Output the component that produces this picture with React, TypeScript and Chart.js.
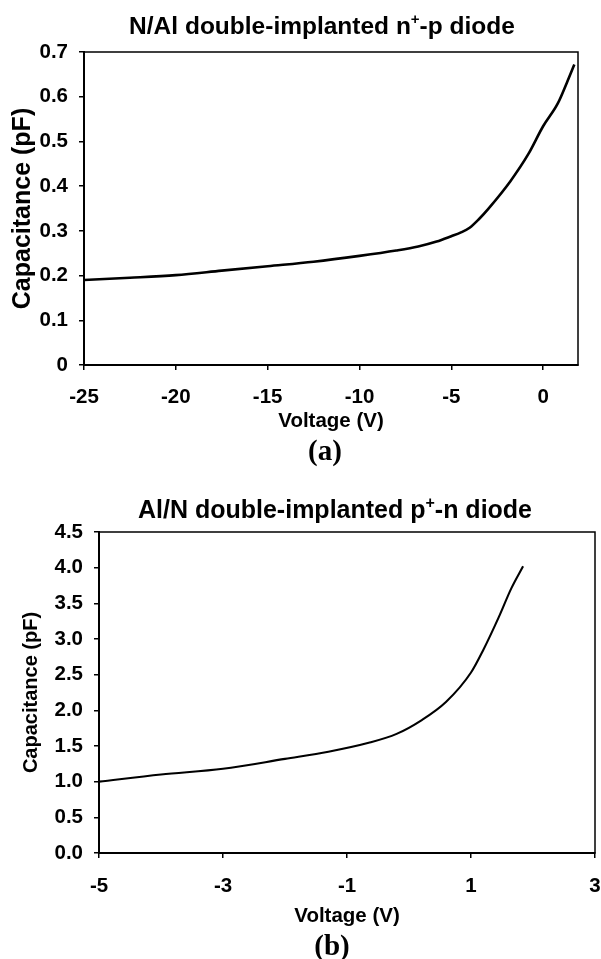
import React, { useEffect, useRef } from "react";
import { Chart, registerables } from "chart.js";

Chart.register(...registerables);

// ---------- Data ----------
const titleA = ["N/Al double-implanted n", "+", "-p diode"];
const titleB = ["Al/N double-implanted p", "+", "-n diode"];
const subLabelA = "(a)";
const subLabelB = "(b)";
const xTitle = "Voltage (V)";
const yTitle = "Capacitance (pF)";

const voltageA = [-25, -22.5, -20, -17.5, -15, -12.5, -10, -8, -6.8, -5.8, -5, -4.5, -4.0, -3.5, -2.95, -1.8, -0.8, 0, 0.8, 1.3, 1.7];
const capacitanceA = [0.19, 0.195, 0.201, 0.211, 0.221, 0.231, 0.244, 0.256, 0.265, 0.276, 0.288, 0.296, 0.307, 0.326, 0.351, 0.41, 0.472, 0.534, 0.585, 0.632, 0.672];
const xTicksA = [-25, -20, -15, -10, -5, 0];
const yTicksA = [0, 0.1, 0.2, 0.3, 0.4, 0.5, 0.6, 0.7];

const voltageB = [-5, -4, -3, -2, -1.3, -0.65, -0.2, 0.2, 0.6, 1.0, 1.2, 1.45, 1.65, 1.84];
const capacitanceB = [1.0, 1.1, 1.18, 1.32, 1.42, 1.545, 1.67, 1.86, 2.12, 2.53, 2.85, 3.31, 3.71, 4.02];
const xTicksB = [-5, -3, -1, 1, 3];
const yTicksB = [0, 0.5, 1.0, 1.5, 2.0, 2.5, 3.0, 3.5, 4.0, 4.5];

const SANS = '"Liberation Sans", Arial, Helvetica, sans-serif';
const SERIF = '"Liberation Serif", "Times New Roman", serif';

const figTextPlugin = {
  id: "figText",
  afterDraw(chart: any, _args: any, opts: any) {
    const ctx = chart.ctx;
    const area = chart.chartArea;
    ctx.save();
    // frame round the plot area
    ctx.strokeStyle = "#000";
    ctx.lineWidth = 1.5;
    ctx.strokeRect(area.left, area.top, area.right - area.left, area.bottom - area.top);

    ctx.fillStyle = "#000";
    // title with superscript
    const size = opts.titleSize;
    const mainFont = `bold ${size}px ${SANS}`;
    const supFont = `bold ${Math.round(size * 0.62)}px ${SANS}`;
    const [pre, sup, post] = opts.title;
    ctx.font = mainFont;
    const wPre = ctx.measureText(pre).width;
    const wPost = ctx.measureText(post).width;
    ctx.font = supFont;
    const wSup = ctx.measureText(sup).width;
    let x = opts.titleX - (wPre + wSup + wPost) / 2;
    ctx.textAlign = "left";
    ctx.textBaseline = "alphabetic";
    ctx.font = mainFont;
    ctx.fillText(pre, x, opts.titleBaseline);
    x += wPre;
    ctx.font = supFont;
    ctx.fillText(sup, x, opts.titleBaseline - size * 0.42);
    x += wSup;
    ctx.font = mainFont;
    ctx.fillText(post, x, opts.titleBaseline);

    // sub label (a)/(b)
    ctx.font = `bold ${opts.subSize}px ${SERIF}`;
    ctx.textAlign = "center";
    ctx.textBaseline = "middle";
    ctx.fillText(opts.subLabel, opts.subX, opts.subY);
    ctx.restore();
  },
};

function makeConfig(p: any) {
  const data = p.xs.map((v: number, i: number) => ({ x: v, y: p.ys[i] }));
  return {
    type: "line",
    data: {
      datasets: [
        {
          data,
          borderColor: "#000",
          borderWidth: p.lineWidth,
          pointRadius: 0,
          fill: false,
          cubicInterpolationMode: "monotone",
        },
      ],
    },
    plugins: [figTextPlugin],
    options: {
      animation: false,
      responsive: false,
      devicePixelRatio: 1,
      events: [],
      layout: { padding: { top: p.padTop, right: p.padRight, bottom: 0, left: 0 } },
      plugins: {
        legend: { display: false },
        tooltip: { enabled: false },
        title: { display: false },
        figText: {
          title: p.title,
          titleSize: p.titleSize,
          titleX: p.titleX,
          titleBaseline: p.titleBaseline,
          subLabel: p.subLabel,
          subSize: 29,
          subX: p.subX,
          subY: p.subY,
        },
      },
      scales: {
        x: {
          type: "linear",
          min: p.xMin,
          max: p.xMax,
          afterBuildTicks: (scale: any) => {
            scale.ticks = p.xTicks.map((v: number) => ({ value: v }));
          },
          afterFit: (scale: any) => {
            scale.height = p.xHeight;
            scale.paddingLeft = 0;
            scale.paddingRight = 0;
          },
          grid: {
            display: true,
            drawOnChartArea: false,
            drawTicks: true,
            tickLength: 5,
            color: "#000",
            lineWidth: 1.5,
          },
          border: { display: true, color: "#000", width: 2 },
          ticks: {
            color: "#000",
            font: { family: SANS, size: 20.5, weight: "bold" },
            padding: p.xTickPad,
            maxRotation: 0,
            autoSkip: false,
            callback: (v: any) => String(v),
          },
          title: {
            display: true,
            text: xTitle,
            color: "#000",
            font: { family: SANS, size: 20.5, weight: "bold" },
            padding: { top: 0, bottom: p.xTitlePad },
          },
        },
        y: {
          type: "linear",
          min: p.yMin,
          max: p.yMax,
          afterBuildTicks: (scale: any) => {
            scale.ticks = p.yTicks.map((v: number) => ({ value: v }));
          },
          afterFit: (scale: any) => {
            scale.width = p.yWidth;
            scale.paddingTop = 0;
            scale.paddingBottom = 0;
          },
          grid: {
            display: true,
            drawOnChartArea: false,
            drawTicks: true,
            tickLength: 5,
            color: "#000",
            lineWidth: 1.5,
          },
          border: { display: true, color: "#000", width: 2 },
          ticks: {
            color: "#000",
            font: { family: SANS, size: 20.5, weight: "bold" },
            padding: 11,
            autoSkip: false,
            callback: p.yFormat,
          },
          title: {
            display: true,
            text: yTitle,
            color: "#000",
            font: { family: SANS, size: p.yTitleSize, weight: "bold" },
            padding: { top: p.yTitlePad, bottom: 0 },
          },
        },
      },
    },
  };
}

function Panel(props: { params: any; width: number; height: number; top: number }) {
  const ref = useRef<HTMLCanvasElement | null>(null);
  useEffect(() => {
    if (!ref.current) return;
    const chart = new Chart(ref.current, makeConfig(props.params) as any);
    return () => chart.destroy();
  }, []);
  return (
    <canvas
      ref={ref}
      width={props.width}
      height={props.height}
      style={{ position: "absolute", left: 0, top: props.top, width: props.width, height: props.height }}
    />
  );
}

const paramsA = {
  xs: voltageA,
  ys: capacitanceA,
  xTicks: xTicksA,
  yTicks: yTicksA,
  xMin: -25,
  xMax: 1.9,
  yMin: 0,
  yMax: 0.7,
  lineWidth: 2.6,
  padTop: 52,
  padRight: 23,
  yWidth: 84,
  xHeight: 115,
  xTickPad: 15,
  xTitlePad: 46,
  yTitleSize: 25,
  yTitlePad: 8,
  yFormat: (v: any) => String(v),
  title: titleA,
  titleSize: 24.5,
  titleX: 322,
  titleBaseline: 34,
  subLabel: subLabelA,
  subX: 325,
  subY: 453,
};

const paramsB = {
  xs: voltageB,
  ys: capacitanceB,
  xTicks: xTicksB,
  yTicks: yTicksB,
  xMin: -5,
  xMax: 3,
  yMin: 0,
  yMax: 4.5,
  lineWidth: 2.1,
  padTop: 52,
  padRight: 6,
  yWidth: 99,
  xHeight: 106,
  xTickPad: 16,
  xTitlePad: 30,
  yTitleSize: 20,
  yTitlePad: 19,
  yFormat: (v: any) => Number(v).toFixed(1),
  title: titleB,
  titleSize: 25,
  titleX: 335,
  titleBaseline: 38,
  subLabel: subLabelB,
  subX: 332,
  subY: 468,
};

export default function App() {
  return (
    <div style={{ position: "absolute", left: 0, top: 0, width: 601, height: 959, background: "#fff", overflow: "hidden" }}>
      <Panel params={paramsA} width={601} height={480} top={0} />
      <Panel params={paramsB} width={601} height={479} top={480} />
    </div>
  );
}
